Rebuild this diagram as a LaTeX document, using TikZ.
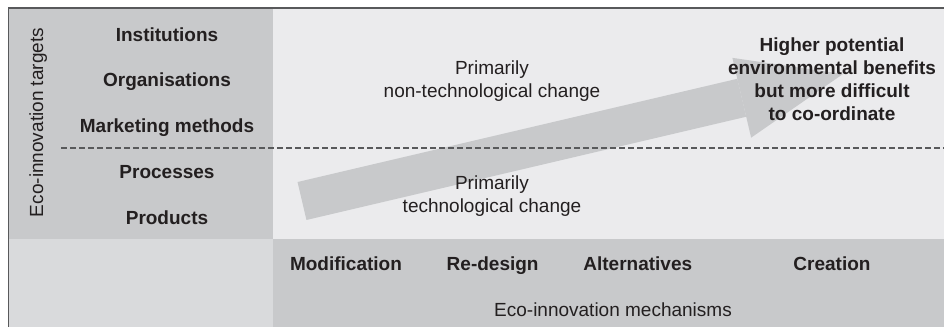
\documentclass[tikz,border=0pt]{standalone}
\usepackage{fontspec}
\setmainfont{Liberation Sans}
\usetikzlibrary{calc,positioning,arrows.meta}
\definecolor{panelgrey}{HTML}{C8C9CB}
\definecolor{fieldgrey}{HTML}{EBEBED}
\definecolor{cornergrey}{HTML}{D9DADC}
\definecolor{framegrey}{HTML}{58595B}
\definecolor{inkgrey}{HTML}{231F20}

\begin{document}
\begin{tikzpicture}[x=0.5pt,y=-0.5pt,node distance=22pt and 22pt]

\tikzset{target/.style={font=\fontsize{9.5pt}{11.5pt}\selectfont\bfseries,text=inkgrey,inner sep=0pt,text height=7pt,text depth=2pt},
mechanism/.style={target},
plain/.style={font=\fontsize{9.5pt}{11.5pt}\selectfont,text=inkgrey,inner sep=0pt,align=center},
claim/.style={plain,font=\fontsize{9.5pt}{11.5pt}\selectfont\bfseries},
bigarrow/.style={draw=panelgrey,line width=19.5pt,-{Triangle[length=52pt,width=41pt,line width=0pt]}}}

\useasboundingbox (0,0) rectangle (944,327);

% Panels
\fill[panelgrey] (8.5,8) rectangle (273,239);
\fill[fieldgrey] (273,8) rectangle (944,239);
\fill[cornergrey] (8.5,239) rectangle (273,327);
\fill[panelgrey] (273,239) rectangle (944,327);
\draw[framegrey,line width=0.75pt] (8.5,327) -- (8.5,8) -- (944,8); % frame

% Trend arrow
\coordinate (tail) at (302,201);
\coordinate (tip) at (843,74);
\draw[bigarrow] (tail) -- (tip);

% Divider
\draw[framegrey,line width=0.7pt,dash pattern=on 2.75pt off 1.75pt] (61,148) -- (944,148);

% Targets
\node[plain,rotate=90,anchor=base] (targets) at (43,122.5) {Eco-innovation targets};
\foreach \lbl [count=\i] in {Institutions,Organisations,Marketing methods,Processes,Products}
  \node[target,anchor=base] (t\i) at (167,{41+45.75*(\i-1)}) {\lbl};

% Change types
\node[plain,anchor=north] (nontech) at (492,60) {Primarily\\non-technological change};
\node[plain,anchor=north] (tech) at (492,175) {Primarily\\technological change};
\node[claim,anchor=north] (benefits) at (832,37) {Higher potential\\environmental benefits\\but more difficult\\to co-ordinate};

% Mechanisms
\node[mechanism] (modif) at (346,265) {Modification};
\node[mechanism,right=of modif] (redesign) {Re-design};
\node[mechanism,right=of redesign] (altern) {Alternatives};
\node[mechanism] (creation) at (832,265) {Creation};
\node[plain,anchor=base] (mechanisms) at (613,316) {Eco-innovation mechanisms};

\end{tikzpicture}
\end{document}
